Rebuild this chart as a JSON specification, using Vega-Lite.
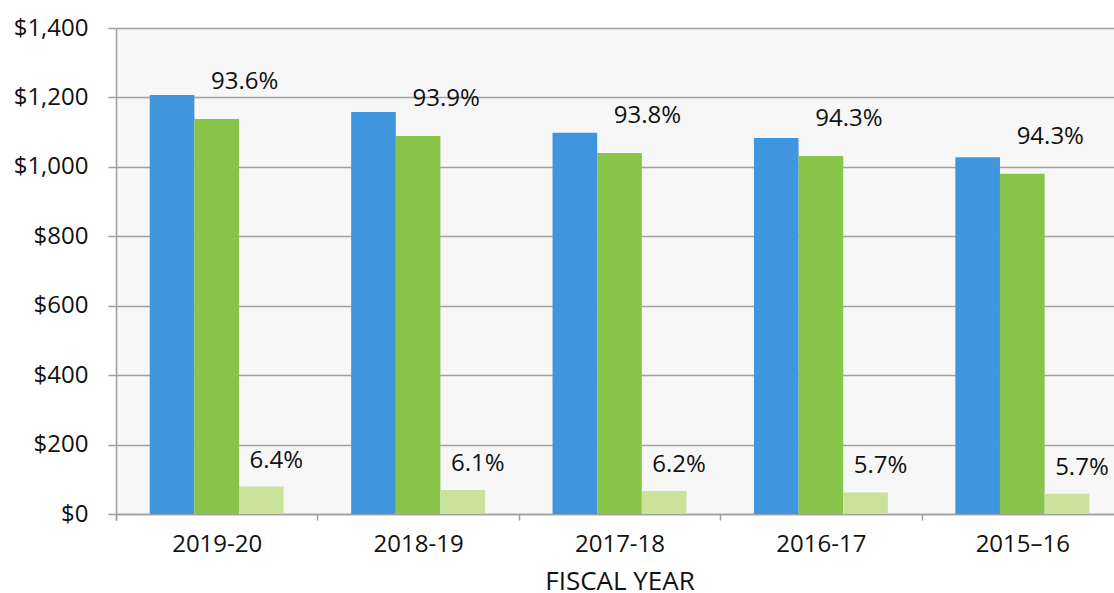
{
  "$schema": "https://vega.github.io/schema/vega-lite/v6.json",
  "width": 1007,
  "height": 486,
  "autosize": {"type": "none"},
  "padding": {"left": 116, "top": 28, "right": 0, "bottom": 79},
  "config": {
    "view": {"fill": "#f7f7f7", "stroke": null},
    "font": "Open Sans",
    "text": {"font": "Open Sans"}
  },
  "data": {
    "values": [
      {"year": "2019-20", "series": "Total", "value": 1207, "label": ""},
      {"year": "2019-20", "series": "Major", "value": 1138, "label": "93.6%"},
      {"year": "2019-20", "series": "Minor", "value": 79, "label": "6.4%"},
      {"year": "2018-19", "series": "Total", "value": 1158, "label": ""},
      {"year": "2018-19", "series": "Major", "value": 1089, "label": "93.9%"},
      {"year": "2018-19", "series": "Minor", "value": 69, "label": "6.1%"},
      {"year": "2017-18", "series": "Total", "value": 1098, "label": ""},
      {"year": "2017-18", "series": "Major", "value": 1040, "label": "93.8%"},
      {"year": "2017-18", "series": "Minor", "value": 66, "label": "6.2%"},
      {"year": "2016-17", "series": "Total", "value": 1083, "label": ""},
      {"year": "2016-17", "series": "Major", "value": 1031, "label": "94.3%"},
      {"year": "2016-17", "series": "Minor", "value": 62, "label": "5.7%"},
      {"year": "2015–16", "series": "Total", "value": 1028, "label": ""},
      {"year": "2015–16", "series": "Major", "value": 980, "label": "94.3%"},
      {"year": "2015–16", "series": "Minor", "value": 58, "label": "5.7%"}
    ]
  },
  "encoding": {
    "x": {
      "field": "year",
      "type": "nominal",
      "sort": null,
      "scale": {"paddingInner": 0.335, "paddingOuter": 0.1675},
      "axis": {
        "title": "FISCAL YEAR",
        "titleFont": "Open Sans",
        "titleFontSize": 26,
        "titleFontWeight": "normal",
        "titleColor": "#111",
        "titlePadding": 12,
        "labelAngle": 0,
        "labelFontSize": 24,
        "labelColor": "#111",
        "labelPadding": 12,
        "labelOffset": 33.7,
        "domainColor": "#a0a0a0",
        "domainWidth": 1.5,
        "tickColor": "#a0a0a0",
        "tickWidth": 1.5,
        "tickSize": 6,
        "bandPosition": 0,
        "tickOffset": -33.7,
        "tickExtra": true
      }
    },
    "xOffset": {
      "field": "series",
      "type": "nominal",
      "sort": ["Total", "Major", "Minor"],
      "scale": {"paddingInner": 0, "paddingOuter": 0}
    },
    "y": {
      "field": "value",
      "type": "quantitative",
      "scale": {"domain": [0, 1400]},
      "axis": {
        "title": null,
        "values": [0, 200, 400, 600, 800, 1000, 1200, 1400],
        "format": "$,.0f",
        "labelFontSize": 24,
        "labelColor": "#111",
        "labelPadding": 20,
        "tickSize": 8,
        "tickColor": "#a0a0a0",
        "tickWidth": 1.5,
        "domainColor": "#a0a0a0",
        "domainWidth": 1.5,
        "gridColor": "#a0a0a0",
        "gridWidth": 1.5
      }
    }
  },
  "layer": [
    {
      "mark": {"type": "bar"},
      "encoding": {
        "color": {
          "field": "series",
          "type": "nominal",
          "scale": {"domain": ["Total", "Major", "Minor"], "range": ["#4096dc", "#89c44a", "#cae29a"]},
          "legend": null
        }
      }
    },
    {
      "transform": [{"filter": "datum.series === 'Major'"}],
      "mark": {"type": "text", "fontSize": 24, "color": "#111", "dx": 28, "dy": -37, "baseline": "middle"},
      "encoding": {"text": {"field": "label"}}
    },
    {
      "transform": [{"filter": "datum.series === 'Minor'"}],
      "mark": {"type": "text", "fontSize": 24, "color": "#111", "dx": 15, "dy": -26, "baseline": "middle"},
      "encoding": {"text": {"field": "label"}}
    }
  ]
}
